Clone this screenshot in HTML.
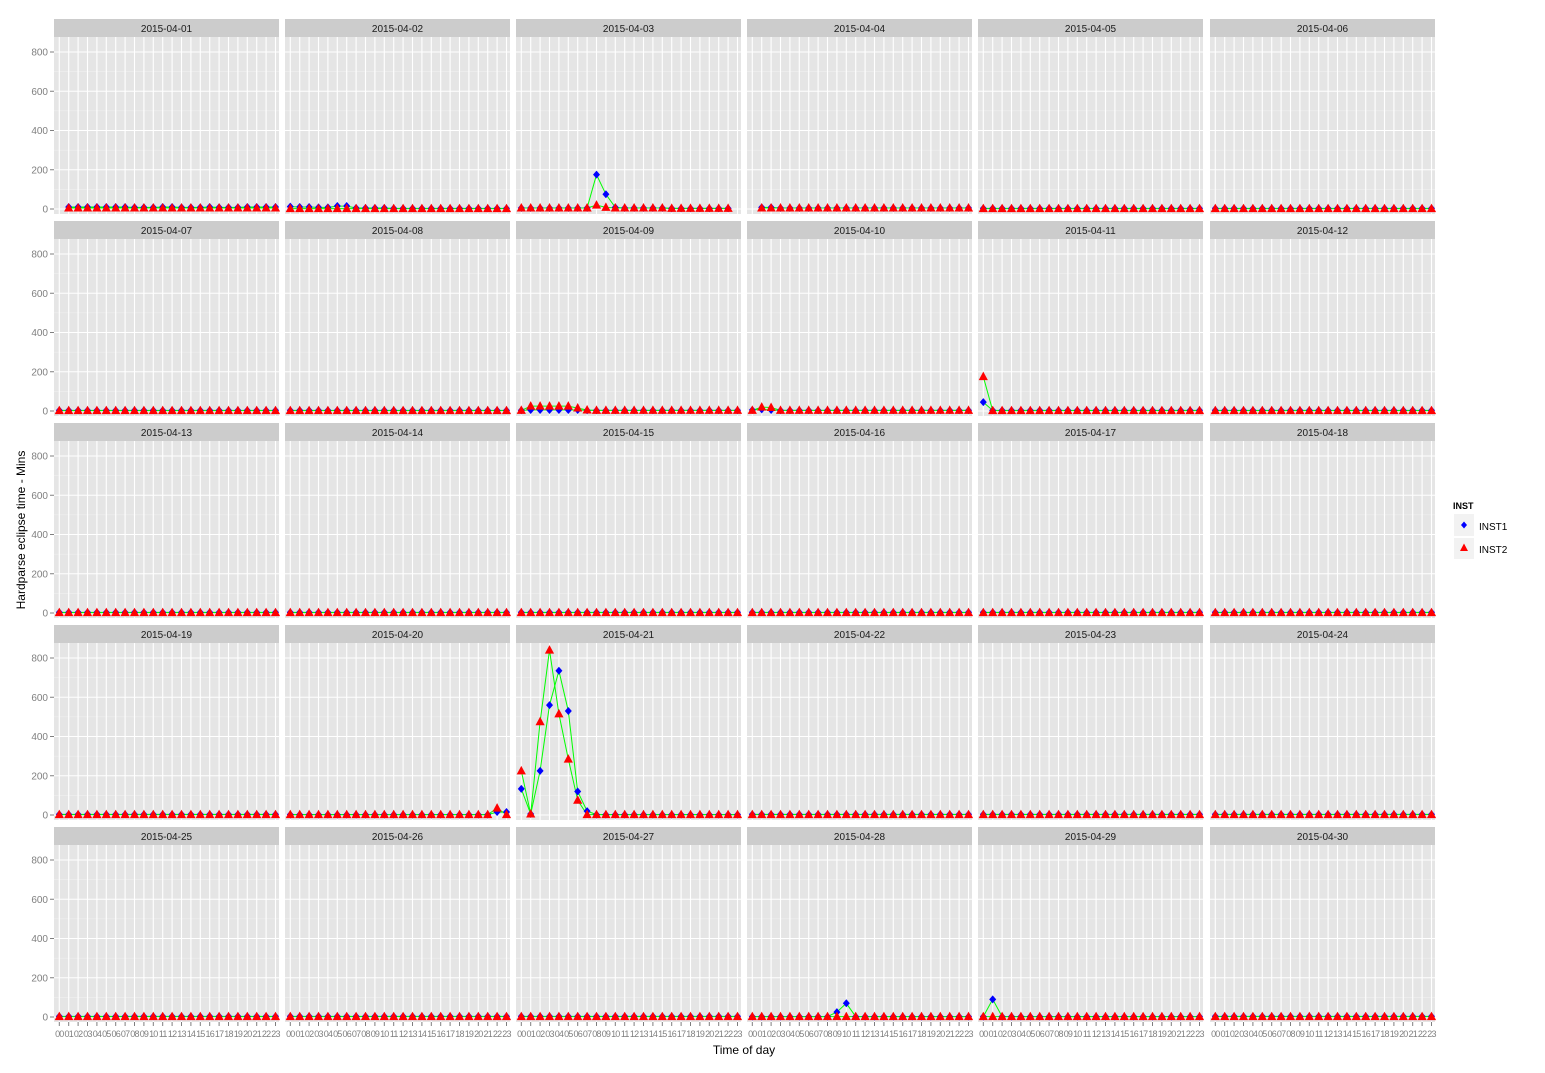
<!DOCTYPE html>
<html><head><meta charset="utf-8"><style>
body{margin:0;background:#fff;font-family:"Liberation Sans",sans-serif}
svg text{font-family:"Liberation Sans",sans-serif}
</style></head><body>
<svg id="chart" width="1545" height="1068" xmlns="http://www.w3.org/2000/svg"></svg>
<script>
const days=["2015-04-01","2015-04-02","2015-04-03","2015-04-04","2015-04-05","2015-04-06","2015-04-07","2015-04-08","2015-04-09","2015-04-10","2015-04-11","2015-04-12","2015-04-13","2015-04-14","2015-04-15","2015-04-16","2015-04-17","2015-04-18","2015-04-19","2015-04-20","2015-04-21","2015-04-22","2015-04-23","2015-04-24","2015-04-25","2015-04-26","2015-04-27","2015-04-28","2015-04-29","2015-04-30"];
const hours=["00","01","02","03","04","05","06","07","08","09","10","11","12","13","14","15","16","17","18","19","20","21","22","23"];
const yTicks=[0,200,400,600,800];
const base1=[3,3,3,3,3,3,3,3,3,3,3,3,3,3,3,3,3,3,3,3,3,3,3,3];
const base2=[2,2,2,2,2,2,2,2,2,2,2,2,2,2,2,2,2,2,2,2,2,2,2,2];
const inst1Special={
"2015-04-01":[null,10,10,10,10,10,10,10,8,8,8,10,10,8,8,8,10,8,8,8,10,10,10,10],
"2015-04-02":[12,10,10,8,8,15,15,5,5,5,5,3,3,3,3,3,3,3,3,3,3,3,3,3],
"2015-04-03":[5,5,5,5,5,5,5,5,175,75,8,5,5,5,5,5,3,3,3,3,3,3,3,null],
"2015-04-04":[null,8,8,5,5,5,5,5,5,5,5,5,5,5,5,5,5,5,5,5,5,5,5,5],
"2015-04-09":[3,5,5,5,5,5,5,3,3,3,3,3,3,3,3,3,3,3,3,3,3,3,3,3],
"2015-04-10":[5,8,5,3,3,3,3,3,3,3,3,3,3,3,3,3,3,3,3,3,3,3,3,3],
"2015-04-11":[45,3,3,3,3,3,3,3,3,3,3,3,3,3,3,3,3,3,3,3,3,3,3,3],
"2015-04-20":[2,2,2,2,2,2,2,2,2,2,2,2,2,2,2,2,2,2,2,2,2,2,15,15],
"2015-04-21":[133,5,225,560,735,530,120,20,2,2,2,2,2,2,2,2,2,2,2,2,2,2,2,2],
"2015-04-28":[2,2,2,2,2,2,2,2,2,25,70,2,2,2,2,2,2,2,2,2,2,2,2,2],
"2015-04-29":[2,90,2,2,2,2,2,2,2,2,2,2,2,2,2,2,2,2,2,2,2,2,2,2]
};
const inst2Special={
"2015-04-01":[null,5,5,5,5,5,5,5,5,5,5,5,5,5,5,5,5,5,5,5,5,5,5,5],
"2015-04-03":[5,5,5,5,5,5,5,5,20,8,5,5,5,5,5,5,3,3,3,3,3,3,3,null],
"2015-04-04":[null,5,5,5,5,5,5,5,5,5,5,5,5,5,5,5,5,5,5,5,5,5,5,5],
"2015-04-09":[3,25,25,25,25,25,15,5,3,3,3,3,3,3,3,3,3,3,3,3,3,3,3,3],
"2015-04-10":[3,20,18,3,3,3,3,3,3,3,3,3,3,3,3,3,3,3,3,3,3,3,3,3],
"2015-04-11":[175,2,2,2,2,2,2,2,2,2,2,2,2,2,2,2,2,2,2,2,2,2,2,2],
"2015-04-20":[2,2,2,2,2,2,2,2,2,2,2,2,2,2,2,2,2,2,2,2,2,2,35,2],
"2015-04-21":[225,5,475,840,515,285,75,2,2,2,2,2,2,2,2,2,2,2,2,2,2,2,2,2]
};
const NS="http://www.w3.org/2000/svg",svg=document.getElementById('chart');
function mk(t,a,p){const e=document.createElementNS(NS,t);for(const k in a)e.setAttribute(k,a[k]);(p||svg).appendChild(e);return e;}
const colX=[54,285,516,747,978,1210],pw=225,rowTop=[19,221,423,625,827],stripH=18,ph=177;
function xs(c,i){return colX[c]+5.3+i*9.4;}
function ys(r,v){return rowTop[r]+stripH+172-v*157/800;}
days.forEach((d,k)=>{
 const c=k%6,r=Math.floor(k/6);
 const g=mk('g',{});
 
 
 const s=mk('rect',{x:colX[c],y:rowTop[r],width:pw,height:stripH,fill:'#cccccc'},g);
 
 const st=mk('text',{x:colX[c]+pw/2,y:rowTop[r]+13,'font-size':'10','text-anchor':'middle',fill:'#1a1a1a'},g);st.textContent=d;
 
 const top=rowTop[r]+stripH;
 mk('rect',{x:colX[c],y:top,width:pw,height:ph,fill:'#e5e5e5'},g);
 for(let v=100;v<=900;v+=200){const y=ys(r,v);if(y>top)mk('line',{x1:colX[c],x2:colX[c]+pw,y1:y,y2:y,stroke:'#f2f2f2','stroke-width':0.6},g);}
 yTicks.forEach(v=>{const y=ys(r,v);mk('line',{x1:colX[c],x2:colX[c]+pw,y1:y,y2:y,stroke:'#fff','stroke-width':1.1},g);});
 hours.forEach((h,i)=>{mk('line',{x1:xs(c,i),x2:xs(c,i),y1:top,y2:top+ph,stroke:'#fff','stroke-width':1.1},g);});
 if(c===0){yTicks.forEach(v=>{const y=ys(r,v);mk('line',{x1:colX[c]-4,x2:colX[c],y1:y,y2:y,stroke:'#7f7f7f'},g);const t=mk('text',{x:colX[c]-6,y:y+3.5,'font-size':'10','text-anchor':'end',fill:'#7f7f7f'},g);t.textContent=v;});}
 if(r===4){hours.forEach((h,i)=>{mk('line',{x1:xs(c,i),x2:xs(c,i),y1:top+ph,y2:top+ph+4,stroke:'#7f7f7f'},g);const t=mk('text',{x:xs(c,i),y:top+ph+15,'font-size':'9','text-anchor':'middle',fill:'#7f7f7f','letter-spacing':'-0.8'},g);t.textContent=h;});}
 const s1=inst1Special[d]||base1,s2=inst2Special[d]||base2;
 [s1,s2].forEach(ser=>{let p='';ser.forEach((v,i)=>{if(v!==null)p+=(p?'L':'M')+xs(c,i).toFixed(1)+','+ys(r,v).toFixed(1);});const l=mk('path',{d:p,fill:'none',stroke:'#00ff00','stroke-width':1},g);});
 s1.forEach((v,i)=>{if(v===null)return;const x=xs(c,i),y=ys(r,v);const m=mk('path',{d:`M${x},${y-4}L${x+3.5},${y}L${x},${y+4}L${x-3.5},${y}Z`,fill:'#0000ff'},g);});
 s2.forEach((v,i)=>{if(v===null)return;const x=xs(c,i),y=ys(r,v);const m=mk('path',{d:`M${x},${y-5}L${x+4.6},${y+3.5}L${x-4.6},${y+3.5}Z`,fill:'#ff0000'},g);});
});
let t=mk('text',{x:744,y:1054,'font-size':'12','text-anchor':'middle'});t.textContent='Time of day';
t=mk('text',{x:0,y:0,'font-size':'12','text-anchor':'middle',transform:'translate(25,530) rotate(-90)'});t.textContent='Hardparse eclipse time - Mins';
const lg=mk('g',{});
t=mk('text',{x:1453,y:509,'font-size':'9','font-weight':'bold'},lg);t.textContent='INST';
mk('rect',{x:1454,y:514,width:20,height:22,fill:'#f2f2f2'},lg);mk('rect',{x:1454,y:538,width:20,height:21,fill:'#f2f2f2'},lg);
mk('path',{d:'M1464,521.5L1467,525L1464,528.5L1461,525Z',fill:'#0000ff'},lg);
mk('path',{d:'M1464,543.5L1468,551L1460,551Z',fill:'#ff0000'},lg);
t=mk('text',{x:1479,y:530,'font-size':'10'},lg);t.textContent='INST1';
t=mk('text',{x:1479,y:553,'font-size':'10'},lg);t.textContent='INST2';
</script>
</body></html>
